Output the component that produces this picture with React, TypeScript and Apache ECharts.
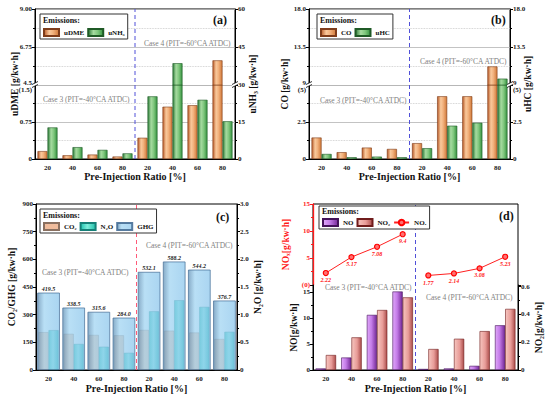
import React, { useEffect, useRef } from 'react';
import * as echarts from 'echarts';

// ---------- data ----------
const categories = ['20', '40', '60', '80', '20', '40', '60', '80'];
const case3Count = 4;

// (a)
const uDME = [0.16, 0.075, 0.09, 0.05, 0.43, 1.06, 1.09, 5.96];
const uNH3 = [12.8, 4.8, 3.7, 2.3, 25.4, 38.6, 24.0, 15.3];
// (b)
const CO = [1.45, 0.46, 0.77, 0.68, 1.07, 4.24, 4.24, 11.2];
const uHC = [0.34, 0.12, 0.16, 0.12, 0.73, 2.25, 2.45, 9.75];
// (c)
const CO2 = [205, 196, 190, 188, 217, 213, 203, 168];
const N2O = [0.72, 0.47, 0.42, 0.31, 1.06, 1.26, 1.14, 0.69];
const GHG = [419.5, 338.5, 315.6, 284.0, 532.1, 588.2, 544.2, 376.7];
// (d)
const NO = [0.3, 2.4, 10.6, 15.1, 0.2, 0.3, 0.8, 8.6];
const NO2 = [0.108, 0.235, 0.432, 0.523, 0.151, 0.225, 0.28, 0.44];
const NOxCase3 = [2.22, 5.17, 7.08, 9.4];
const NOxCase4 = [1.77, 2.14, 3.08, 5.23];

const case3Text = 'Case 3 (PIT=-40°CA ATDC)';
const case4Text = 'Case 4 (PIT=-60°CA ATDC)';

// ---------- styles ----------
const FONT = "'Liberation Serif', 'Times New Roman', serif";
const near = (a: number, b: number) => Math.abs(a - b) < 1e-6;
const mkFmt = (map: [number, string][]) => (v: number) => {
  for (const [k, s] of map) if (near(v, k)) return s;
  return '';
};

const hGrad = (stops: [number, string][]) =>
  new echarts.graphic.LinearGradient(0, 0, 1, 0, stops.map(([offset, color]) => ({ offset, color })));

const orangeStyle = {
  color: hGrad([[0, '#b85a28'], [0.35, '#f9c99c'], [0.6, '#f2b27e'], [1, '#d07838']]),
  borderColor: '#7e3c1a', borderWidth: 0.6,
};
const greenStyle = {
  color: hGrad([[0, '#2c7a38'], [0.35, '#a6dba0'], [0.65, '#7ec67c'], [1, '#35923f']]),
  borderColor: '#1f5a26', borderWidth: 0.6,
};
const co2Style = { color: '#f0bc9c', borderColor: '#8a7060', borderWidth: 0.5 };
const n2oStyle = {
  color: hGrad([[0, '#1ec2ae'], [0.45, '#7eeedc'], [1, '#22c0aa']]),
  borderColor: '#168078', borderWidth: 0.5,
};
const ghgStyle = {
  color: hGrad([[0, 'rgba(105,150,185,0.8)'], [0.3, 'rgba(160,212,242,0.74)'], [1, 'rgba(140,198,236,0.74)']]),
  borderColor: 'rgba(70,110,150,0.9)', borderWidth: 0.8,
};
const noStyle = {
  color: hGrad([[0, '#e0a8fa'], [0.45, '#c47ce8'], [1, '#742896']]),
  borderColor: '#44125a', borderWidth: 0.6,
};
const no2Style = {
  color: hGrad([[0, '#f6c6c0'], [0.55, '#e89c98'], [1, '#ac4e4c']]),
  borderColor: '#701c1c', borderWidth: 0.6,
};

const labelRich = {
  lo: { padding: [9, 0, 0, 0], fontSize: 7, fontWeight: 'bold', fontFamily: FONT, color: '#222' },
  hi: { padding: [0, 0, 5, 0], fontSize: 7, fontWeight: 'bold', fontFamily: FONT, color: '#222' },
};

function valueAxis(o: any) {
  const color = o.color || '#000';
  return {
    type: 'value',
    gridIndex: o.grid,
    position: o.pos,
    min: o.min,
    max: o.max,
    interval: o.interval,
    show: o.show !== false,
    name: o.name,
    nameLocation: 'middle',
    nameGap: o.nameGap,
    nameRotate: o.name ? 90 : undefined,
    nameTextStyle: { fontSize: 9.5, fontWeight: 'bold', fontFamily: FONT, color: o.nameColor || '#111' },
    axisLine: { show: o.line !== false, onZero: false, lineStyle: { color, width: o.lineWidth || 1 } },
    axisTick: { show: o.ticks !== false, length: 3, lineStyle: { color } },
    minorTick: { show: o.ticks !== false, splitNumber: 2, length: 2, lineStyle: { color } },
    axisLabel: o.fmt
      ? { show: true, fontSize: 7, fontWeight: 'bold', fontFamily: FONT, color: o.labelColor || '#222', margin: 3, formatter: o.fmt, rich: labelRich }
      : { show: false },
    splitLine: { show: !!o.gridLines, lineStyle: { color: '#b4b4b4', width: 0.8 } },
    minorSplitLine: { show: !!o.gridLines, lineStyle: { color: '#c4c4c4', width: 0.8, type: 'dotted' } },
  };
}

function catAxis(grid: number, show: boolean, name?: string, nameGap?: number) {
  return {
    type: 'category',
    gridIndex: grid,
    data: categories,
    show,
    position: 'bottom',
    axisLine: { show: true, onZero: false, lineStyle: { color: '#000' } },
    axisTick: { show: false },
    axisLabel: { fontSize: 7, fontWeight: 'bold', fontFamily: FONT, color: '#222', margin: 5 },
    name,
    nameLocation: 'middle',
    nameGap,
    nameTextStyle: { fontSize: 10, fontWeight: 'bold', fontFamily: FONT, color: '#111' },
  };
}

const frameX = (grid: number) => ({ type: 'value', gridIndex: grid, min: 0, max: categories.length, show: false });
const hiddenY = (grid: number) => ({ type: 'value', gridIndex: grid, min: 0, max: 1, show: false });

const divider = (xi: number, yi: number, color: string) => ({
  type: 'line', xAxisIndex: xi, yAxisIndex: yi, silent: true, symbol: 'none', z: 1,
  data: [[case3Count, 0], [case3Count, 1]],
  lineStyle: { color, width: 1, type: [4, 3] },
});

const barBase = { type: 'bar', barGap: '0%', barCategoryGap: '20%' };

function legend(left: number, top: number, data: any[], padTop: number, icon?: string) {
  return {
    left, top, data, icon, orient: 'horizontal', itemWidth: 15, itemHeight: 7, itemGap: 3,
    padding: [padTop, 3, 2, 3], borderColor: '#333', borderWidth: 1, backgroundColor: '#fff',
    selectedMode: false, z: 50,
    textStyle: { fontSize: 7, fontWeight: 'bold', fontFamily: FONT, color: '#111' },
  };
}

const txt = (x: number, y: number, text: string, size: number, extra: any = {}) => ({
  type: 'text', x, y, z: 100, silent: true,
  style: { text, fontSize: size, fontFamily: FONT, fill: '#111', verticalAlign: 'middle', ...extra },
});

const brk = (x: number, y: number) => ({
  type: 'group', x, y, z: 100, silent: true,
  children: [
    { type: 'polygon', z: 100, shape: { points: [[-3, 0.5], [3, -2.5], [3, 0.5], [-3, 3.5]] }, style: { fill: '#fff' } },
    { type: 'line', z: 101, shape: { x1: -3, y1: 0.5, x2: 3, y2: -2.5 }, style: { stroke: '#000', lineWidth: 0.8 } },
    { type: 'line', z: 101, shape: { x1: -3, y1: 3.5, x2: 3, y2: 0.5 }, style: { stroke: '#000', lineWidth: 0.8 } },
  ],
});

function buildOption() {
  const pad = (arr: number[], before: boolean) => {
    const empty = categories.slice(arr.length).map(() => null);
    return before ? [...empty, ...arr] : [...arr, ...empty];
  };
  const frameGrid = { show: true, borderColor: '#000', borderWidth: 1, backgroundColor: 'transparent' };

  return {
    animation: false,
    backgroundColor: '#fff',
    grid: [
      { left: 35, top: 9, width: 200, height: 76 }, // 0 A up
      { left: 35, top: 85, width: 200, height: 74 }, // 1 A low
      { left: 35, top: 9, width: 200, height: 150, ...frameGrid }, // 2 A frame
      { left: 309, top: 9, width: 201, height: 76 }, // 3 B up
      { left: 309, top: 85, width: 201, height: 74 }, // 4 B low
      { left: 309, top: 9, width: 201, height: 150, ...frameGrid }, // 5 B frame
      { left: 36, top: 204, width: 201, height: 166, ...frameGrid }, // 6 C
      { left: 313, top: 204, width: 205, height: 81 }, // 7 D up
      { left: 313, top: 285, width: 205, height: 85 }, // 8 D low
      { left: 313, top: 204, width: 205, height: 166, ...frameGrid }, // 9 D frame
    ],
    xAxis: [
      catAxis(0, false),
      catAxis(1, true, 'Pre-Injection Ratio [%]', 12),
      frameX(2),
      catAxis(3, false),
      catAxis(4, true, 'Pre-Injection Ratio [%]', 12),
      frameX(5),
      catAxis(6, true, 'Pre-Injection Ratio [%]', 13),
      catAxis(6, false),
      frameX(6),
      catAxis(7, false),
      catAxis(8, true, 'Pre-Injection Ratio [%]', 13),
      frameX(9),
    ],
    yAxis: [
      // A
      valueAxis({ grid: 0, pos: 'left', min: 4.5, max: 9, interval: 2.25, gridLines: true,
        fmt: mkFmt([[4.5, '{hi|4.5}'], [6.75, '6.75'], [9, '9.00']]) }),
      valueAxis({ grid: 0, pos: 'right', min: 30, max: 60, interval: 15,
        fmt: mkFmt([[30, '30'], [45, '45'], [60, '60']]) }),
      valueAxis({ grid: 1, pos: 'left', min: 0, max: 1.5, interval: 0.75, gridLines: true,
        fmt: mkFmt([[0, '0'], [0.75, '0.75'], [1.5, '{lo|(1.5)}']]) }),
      valueAxis({ grid: 1, pos: 'right', min: 0, max: 30, interval: 15,
        fmt: mkFmt([[0, '0'], [15, '15']]) }),
      valueAxis({ grid: 2, pos: 'left', min: 0, max: 1, line: false, ticks: false, name: 'uDME [g/kw·h]', nameGap: 15 }),
      valueAxis({ grid: 2, pos: 'right', min: 0, max: 1, line: false, ticks: false, name: 'uNH₃ [g/kw·h]', nameGap: 13 }),
      // B
      valueAxis({ grid: 3, pos: 'left', min: 9, max: 18, interval: 4.5, gridLines: true,
        fmt: mkFmt([[9, '{hi|9}'], [13.5, '13.5'], [18, '18.0']]) }),
      valueAxis({ grid: 3, pos: 'right', min: 9, max: 18, interval: 4.5,
        fmt: mkFmt([[9, '{hi|9}'], [13.5, '13.5'], [18, '18.0']]) }),
      valueAxis({ grid: 4, pos: 'left', min: 0, max: 5, interval: 2.5, gridLines: true,
        fmt: mkFmt([[0, '0'], [2.5, '2.5'], [5, '{lo|(5)}']]) }),
      valueAxis({ grid: 4, pos: 'right', min: 0, max: 5, interval: 2.5,
        fmt: mkFmt([[0, '0'], [2.5, '2.5'], [5, '{lo|(5)}']]) }),
      valueAxis({ grid: 5, pos: 'left', min: 0, max: 1, line: false, ticks: false, name: 'CO [g/kw·h]', nameGap: 19 }),
      valueAxis({ grid: 5, pos: 'right', min: 0, max: 1, line: false, ticks: false, name: 'uHC [g/kw·h]', nameGap: 13 }),
      // C
      valueAxis({ grid: 6, pos: 'left', min: 0, max: 900, interval: 150, name: 'CO₂/GHG [g/kw·h]', nameGap: 19,
        fmt: (v: number) => String(v) }),
      valueAxis({ grid: 6, pos: 'right', min: 0, max: 3, interval: 0.5, name: 'N₂O [g/kw·h]', nameGap: 14,
        fmt: (v: number) => (v === 0 ? '0' : v.toFixed(1)) }),
      hiddenY(6),
      // D
      valueAxis({ grid: 7, pos: 'left', min: 0, max: 15, interval: 5, color: '#ff1a1a', labelColor: '#ff1a1a', lineWidth: 1.3,
        name: 'NOₓ[g/kw·h]', nameColor: '#ff1a1a', nameGap: 22,
        fmt: mkFmt([[0, '(0)'], [5, '5'], [10, '10'], [15, '15']]) }),
      valueAxis({ grid: 8, pos: 'left', min: 0, max: 16.35, interval: 5, name: 'NO[g/kw·h]', nameGap: 13,
        fmt: mkFmt([[0, '0'], [5, '5'], [10, '10'], [15, '15']]) }),
      valueAxis({ grid: 8, pos: 'right', min: 0, max: 0.612, interval: 0.2, name: 'NO₂[g/kw·h]', nameGap: 14,
        fmt: mkFmt([[0, '0'], [0.2, '0.2'], [0.4, '0.4'], [0.6, '0.6']]) }),
      hiddenY(9),
    ],
    legend: [
      legend(40, 14, ['uDME', 'uNH₃'], 14, 'rect'),
      legend(317, 14, ['CO', 'uHC'], 14, 'rect'),
      legend(40, 209, ['CO₂', 'N₂O', 'GHG'], 13, 'rect'),
      legend(319, 206, [{ name: 'NO', icon: 'rect' }, { name: 'NO₂', icon: 'rect' }, { name: 'NOₓ' }], 12),
    ],
    series: [
      // A
      { ...barBase, name: 'uDME', xAxisIndex: 1, yAxisIndex: 2, data: uDME, itemStyle: orangeStyle },
      { ...barBase, name: 'uNH₃', xAxisIndex: 1, yAxisIndex: 3, data: uNH3, itemStyle: greenStyle },
      { ...barBase, name: 'uDME', xAxisIndex: 0, yAxisIndex: 0, data: uDME, itemStyle: orangeStyle },
      { ...barBase, name: 'uNH₃', xAxisIndex: 0, yAxisIndex: 1, data: uNH3, itemStyle: greenStyle },
      divider(2, 4, '#5050d8'),
      // B
      { ...barBase, name: 'CO', xAxisIndex: 4, yAxisIndex: 8, data: CO, itemStyle: orangeStyle },
      { ...barBase, name: 'uHC', xAxisIndex: 4, yAxisIndex: 9, data: uHC, itemStyle: greenStyle },
      { ...barBase, name: 'CO', xAxisIndex: 3, yAxisIndex: 6, data: CO, itemStyle: orangeStyle },
      { ...barBase, name: 'uHC', xAxisIndex: 3, yAxisIndex: 7, data: uHC, itemStyle: greenStyle },
      divider(5, 10, '#5050d8'),
      // C
      { ...barBase, name: 'CO₂', xAxisIndex: 6, yAxisIndex: 12, data: CO2, itemStyle: co2Style },
      { ...barBase, name: 'N₂O', xAxisIndex: 6, yAxisIndex: 13, data: N2O, itemStyle: n2oStyle },
      {
        type: 'bar', name: 'GHG', xAxisIndex: 7, yAxisIndex: 12, data: GHG, barWidth: '90%', itemStyle: ghgStyle,
        label: { show: true, position: 'top', distance: 1, fontSize: 6, fontStyle: 'italic', fontWeight: 'bold',
          fontFamily: FONT, color: '#222', formatter: (p: any) => Number(p.value).toFixed(1) },
      },
      divider(8, 14, '#ff5a78'),
      // D
      { ...barBase, name: 'NO', xAxisIndex: 10, yAxisIndex: 16, data: NO, itemStyle: noStyle },
      { ...barBase, name: 'NO₂', xAxisIndex: 10, yAxisIndex: 17, data: NO2, itemStyle: no2Style },
      ...[pad(NOxCase3, false), pad(NOxCase4, true)].map((d) => ({
        type: 'line', name: 'NOₓ', xAxisIndex: 9, yAxisIndex: 15, data: d, connectNulls: false,
        symbol: 'circle', symbolSize: 5,
        lineStyle: { color: '#ff2020', width: 1 },
        itemStyle: { color: '#ff7070', borderColor: '#ff0000', borderWidth: 1.2 },
        label: { show: true, position: 'bottom', distance: 1, fontSize: 6, fontStyle: 'italic', fontWeight: 'bold',
          fontFamily: FONT, color: '#ff2020', formatter: (p: any) => String(p.value) },
      })),
      divider(11, 18, '#5050d8'),
    ],
    graphic: [
      txt(43, 20, 'Emissions:', 8, { fontWeight: 'bold' }),
      txt(320, 20, 'Emissions:', 8, { fontWeight: 'bold' }),
      txt(43, 215, 'Emissions:', 8, { fontWeight: 'bold' }),
      txt(322, 211, 'Emissions:', 8, { fontWeight: 'bold' }),
      txt(213, 20, '(a)', 12, { fontWeight: 'bold' }),
      txt(491, 20, '(b)', 12, { fontWeight: 'bold' }),
      txt(216, 217, '(c)', 12, { fontWeight: 'bold' }),
      txt(499, 216, '(d)', 12, { fontWeight: 'bold' }),
      txt(43, 99, case3Text, 7.5, { fill: '#808080' }),
      txt(144, 43, case4Text, 7.5, { fill: '#808080' }),
      txt(320, 100, case3Text, 7.5, { fill: '#808080' }),
      txt(420, 61, case4Text, 7.5, { fill: '#808080' }),
      txt(42, 272, case3Text, 7.5, { fill: '#808080' }),
      txt(146, 245, case4Text, 7.5, { fill: '#808080' }),
      txt(325, 287.5, case3Text, 7.5, { fill: '#808080' }),
      txt(426, 297, case4Text, 7.5, { fill: '#808080' }),
      brk(35, 84),
      brk(235, 84),
      brk(309, 84),
      brk(510, 84),
    ],
  };
}

export default function App() {
  const ref = useRef<HTMLDivElement>(null);
  useEffect(() => {
    const chart = echarts.init(ref.current as HTMLDivElement, null, { renderer: 'svg' });
    chart.setOption(buildOption() as any);
    return () => chart.dispose();
  }, []);
  return (
    <div
      ref={ref}
      style={{ position: 'absolute', left: 0, top: 0, width: 550, height: 400, background: '#fff' }}
    />
  );
}
